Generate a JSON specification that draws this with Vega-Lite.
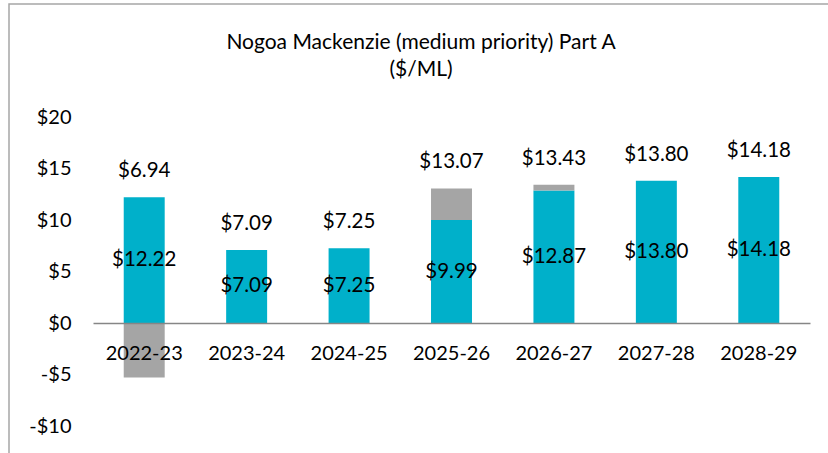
{
  "$schema": "https://vega.github.io/schema/vega-lite/v6.json",
  "width": 836,
  "height": 480,
  "autosize": "none",
  "padding": {"left": 9, "top": 4, "right": 0, "bottom": 0},
  "background": "white",
  "config": {
    "view": {"stroke": "#A6A6A6", "strokeWidth": 1.5},
    "font": "Lato",
    "text": {"font": "Lato", "fontSize": 20.5, "color": "#000000"}
  },
  "title": {
    "text": ["Nogoa Mackenzie (medium priority) Part A", "($/ML)"],
    "font": "Lato",
    "fontSize": 21,
    "fontWeight": "normal",
    "color": "#000000",
    "anchor": "middle",
    "frame": "group",
    "lineHeight": 27,
    "baseline": "top",
    "offset": -76,
    "dx": -6
  },
  "data": {
    "values": [
      {"year": "2022-23", "base": 12.22, "adj": -5.28, "total": 6.94},
      {"year": "2023-24", "base": 7.09, "adj": 0, "total": 7.09},
      {"year": "2024-25", "base": 7.25, "adj": 0, "total": 7.25},
      {"year": "2025-26", "base": 9.99, "adj": 3.08, "total": 13.07},
      {"year": "2026-27", "base": 12.87, "adj": 0.56, "total": 13.43},
      {"year": "2027-28", "base": 13.80, "adj": 0, "total": 13.80},
      {"year": "2028-29", "base": 14.18, "adj": 0, "total": 14.18}
    ]
  },
  "encoding": {
    "x": {
      "field": "year",
      "type": "nominal",
      "sort": null,
      "scale": {"range": [84, 801], "paddingInner": 0.6, "paddingOuter": 0.3},
      "axis": {
        "orient": "bottom",
        "offset": -161,
        "zindex": 1,
        "title": null,
        "labelAngle": 0,
        "labelFont": "Lato",
        "labelFontSize": 20,
        "labelColor": "#000000",
        "labelPadding": 20,
        "ticks": false,
        "tickSize": 0,
        "grid": false,
        "domainColor": "#868686",
        "domainWidth": 1.5
      }
    }
  },
  "layer": [
    {
      "transform": [
        {"fold": ["base", "adj"], "as": ["series", "value"]},
        {"filter": "datum.value != 0"}
      ],
      "mark": {"type": "bar"},
      "encoding": {
        "y": {
          "field": "value",
          "type": "quantitative",
          "stack": "zero",
          "scale": {"domain": [-10, 20], "range": [422, 113], "nice": false, "zero": false},
          "axis": {
            "orient": "left",
            "offset": -84,
            "values": [-10, -5, 0, 5, 10, 15, 20],
            "labelExpr": "datum.value < 0 ? '-$' + abs(datum.value) : '$' + datum.value",
            "title": null,
            "domain": false,
            "ticks": false,
            "tickSize": 0,
            "grid": false,
            "labelPadding": 22,
            "labelFont": "Lato",
            "labelFontSize": 20,
            "labelColor": "#000000"
          }
        },
        "color": {
          "field": "series",
          "type": "nominal",
          "scale": {"domain": ["base", "adj"], "range": ["#00B0CA", "#A5A5A5"]},
          "legend": null
        },
        "order": {"field": "series", "sort": "descending"}
      }
    },
    {
      "transform": [{"calculate": "datum.base / 2", "as": "mid"}],
      "mark": {"type": "text", "baseline": "middle", "align": "center"},
      "encoding": {
        "y": {"field": "mid", "type": "quantitative"},
        "text": {"field": "base", "type": "quantitative", "format": "$.2f"}
      }
    },
    {
      "transform": [{"calculate": "max(datum.base, datum.base + datum.adj)", "as": "top"}],
      "mark": {"type": "text", "baseline": "middle", "align": "center", "dy": -26},
      "encoding": {
        "y": {"field": "top", "type": "quantitative"},
        "text": {"field": "total", "type": "quantitative", "format": "$.2f"}
      }
    }
  ]
}
